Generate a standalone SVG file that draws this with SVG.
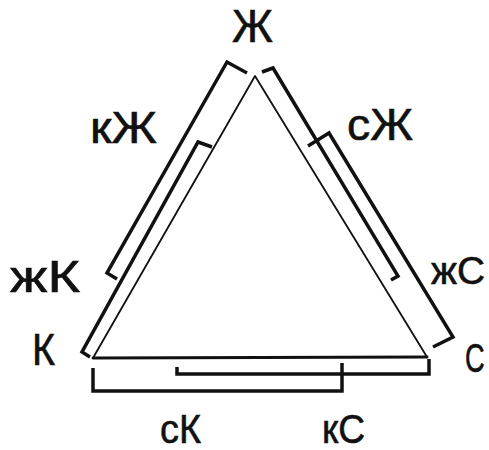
<svg xmlns="http://www.w3.org/2000/svg" width="489" height="450" viewBox="0 0 489 450">
<style>
.t{font-family:"Liberation Sans",Arial,sans-serif;fill:#111;stroke:#111;stroke-width:0.6}
.side{stroke:#111;fill:none;stroke-linecap:round;stroke-linejoin:round}
.br{stroke:#111;fill:none;stroke-width:3.5;stroke-linejoin:miter;stroke-linecap:butt}
</style>
<rect width="489" height="450" fill="#fff"/>
<g id="triangle">
  <path class="side" stroke-width="1.8" d="M93,358 L255,76 L427,357"/>
  <path class="side" stroke-width="3" d="M93,358 L427,357"/>
</g>
<g id="connectors">
  <path class="br" d="M247,73 L227,62 L107,273 L117,279"/>
  <path class="br" d="M212,147 L198,142 L82,352 L90,357"/>
  <path class="br" d="M262,72 L273,68 L398,276 L391,280"/>
  <path class="br" d="M308,146 L329,133 L453,337 L433,347"/>
  <path class="br" d="M177,367 L177,374 L429,374 L429,359"/>
  <path class="br" d="M93,368 L93,391 L342,391 L342,363"/>
</g>
<g id="node-Zh"><text class="t" x="232" y="42" font-size="46" textLength="41" lengthAdjust="spacingAndGlyphs">Ж</text></g>
<g id="node-K"><text class="t" x="32" y="365" font-size="44" textLength="23" lengthAdjust="spacingAndGlyphs">К</text></g>
<g id="node-S"><text class="t" transform="translate(465,372) scale(0.68,1)" x="0" y="0" font-size="40">С</text></g>
<g id="label-kZh"><text class="t" x="90" y="143" font-size="44" textLength="67" lengthAdjust="spacingAndGlyphs">кЖ</text></g>
<g id="label-zhK"><text class="t" x="10" y="292" font-size="44" textLength="70" lengthAdjust="spacingAndGlyphs">жК</text></g>
<g id="label-sZh"><text class="t" x="347" y="140" font-size="44" textLength="66" lengthAdjust="spacingAndGlyphs">сЖ</text></g>
<g id="label-zhS"><text class="t" x="431" y="284" font-size="38" textLength="54" lengthAdjust="spacingAndGlyphs">жС</text></g>
<g id="label-sK"><text class="t" x="160" y="443" font-size="40" textLength="41" lengthAdjust="spacingAndGlyphs">сК</text></g>
<g id="label-kS"><text class="t" x="322" y="443" font-size="40" textLength="43" lengthAdjust="spacingAndGlyphs">кС</text></g>
</svg>
